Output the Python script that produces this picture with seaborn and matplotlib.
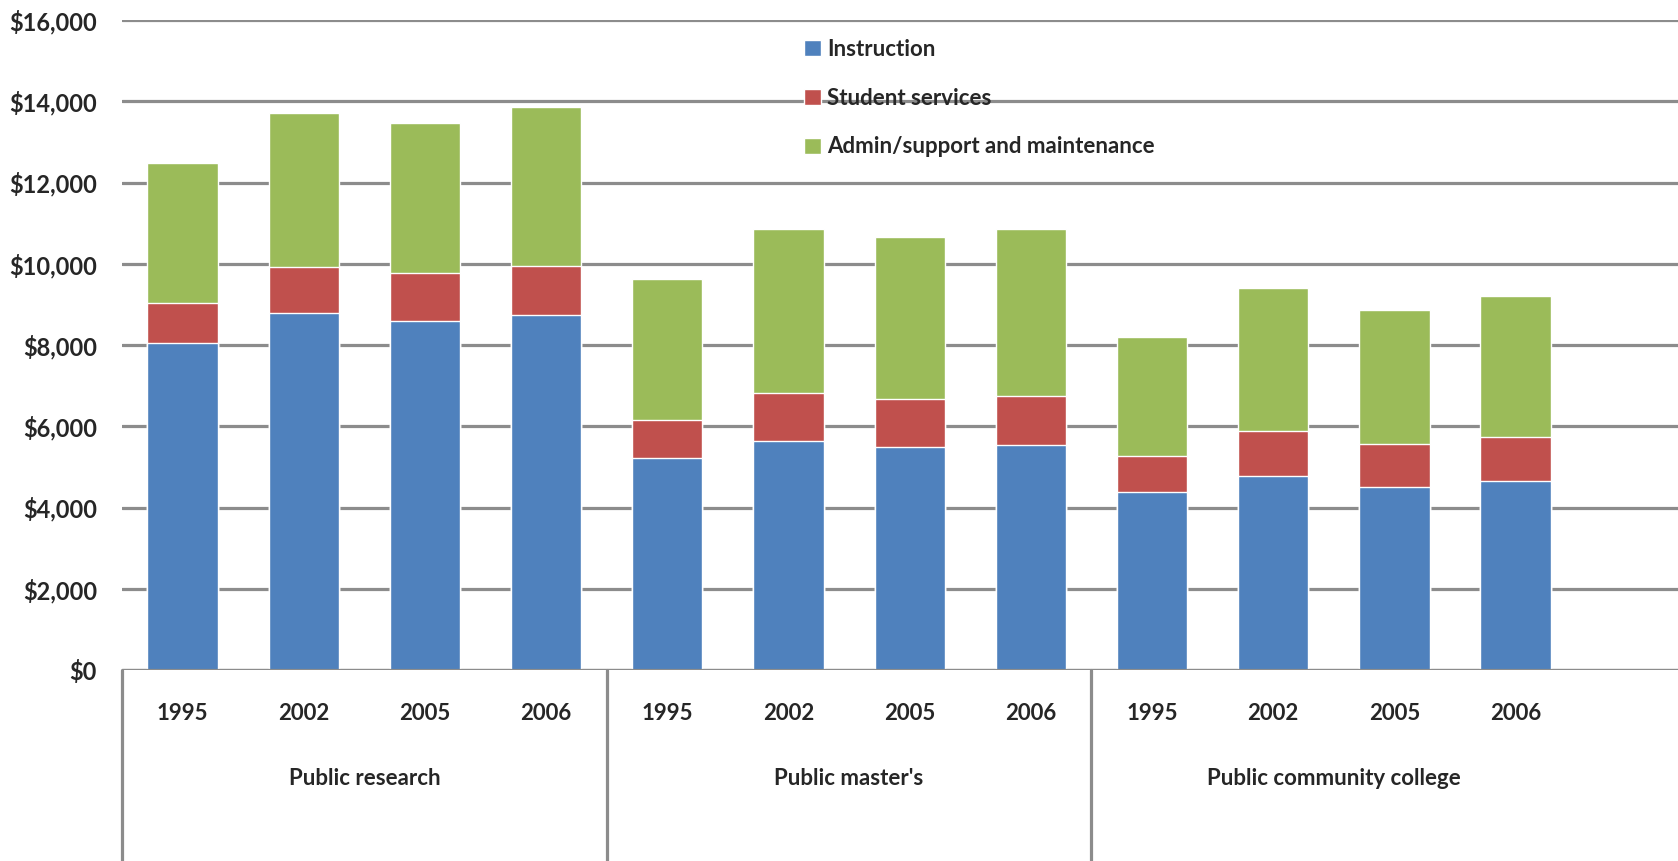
import matplotlib
matplotlib.use("Agg")
import matplotlib.pyplot as plt
from matplotlib.patches import Patch
from matplotlib.ticker import FuncFormatter
import pandas as pd
import seaborn as sns

# Data (dollars per FTE student)
groups = ["Public research", "Public master's", "Public community college"]
years = ["1995", "2002", "2005", "2006"]
instruction = [8050, 8790, 8590, 8740,
               5220, 5640, 5490, 5540,
               4380, 4780, 4500, 4650]
student_services = [980, 1130, 1180, 1200,
                    930, 1180, 1180, 1200,
                    890, 1100, 1060, 1090]
admin_support = [3450, 3790, 3690, 3920,
                 3470, 4040, 3990, 4120,
                 2930, 3520, 3300, 3470]

colors = {"Instruction": "#4F81BD", "Student services": "#C0504D",
          "Admin/support and maintenance": "#9BBB59"}

rows = []
for i, g in enumerate(groups):
    for j, yr in enumerate(years):
        k = i * len(years) + j
        rows.append({"bar": f"{g} {yr}", "year": yr, "group": g,
                     "inst": instruction[k],
                     "stud": instruction[k] + student_services[k],
                     "total": instruction[k] + student_services[k] + admin_support[k]})
df = pd.DataFrame(rows)

sns.set_style("white")
plt.rcParams["font.family"] = ["Lato", "DejaVu Sans"]

fig = plt.figure(figsize=(16.78, 8.61), dpi=100)
ax = fig.add_axes([122 / 1678, 191 / 861, 1 - 122 / 1678, 650 / 861])

order = list(df["bar"])
# stacked by overlaying cumulative sums
sns.barplot(data=df, x="bar", y="total", order=order, color=colors["Admin/support and maintenance"],
            width=0.58, saturation=1, ax=ax, zorder=3)
sns.barplot(data=df, x="bar", y="stud", order=order, color=colors["Student services"],
            width=0.58, saturation=1, ax=ax, zorder=3)
sns.barplot(data=df, x="bar", y="inst", order=order, color=colors["Instruction"],
            width=0.58, saturation=1, ax=ax, zorder=3)

ax.set_ylim(0, 16000)
ax.set_xlim(-0.5, 12.34)
ax.set_yticks(range(0, 16001, 2000))
ax.yaxis.set_major_formatter(FuncFormatter(lambda v, p: f"${v:,.0f}"))
ax.yaxis.grid(True, color="#8c8c8c", linewidth=2.3, zorder=0)
ax.set_axisbelow(True)
for s in ["top", "right", "left", "bottom"]:
    ax.spines[s].set_visible(False)
ax.axhline(0, color="#8c8c8c", linewidth=2.3, zorder=4)
ax.set_xlabel("")
ax.set_ylabel("")
ax.tick_params(axis="y", length=0, pad=18, labelsize=17)
for t in ax.get_yticklabels():
    t.set_fontweight("bold")

ax.set_xticks(range(len(order)))
ax.set_xticklabels(df["year"], fontsize=16, fontweight="bold")
ax.tick_params(axis="x", length=0, pad=24)

# group labels and separators below the axis
trans = ax.get_xaxis_transform()
for i, g in enumerate(groups):
    ax.text(i * 4 + 1.5, -0.167, g, transform=trans, ha="center", va="center",
            fontsize=16, fontweight="bold", clip_on=False)
for xs in [-0.5, 3.5, 7.5]:
    ax.plot([xs, xs], [0, -0.3], transform=trans, color="#8c8c8c",
            linewidth=2.3, clip_on=False)

handles = [Patch(facecolor=c, label=n) for n, c in colors.items()]
leg = fig.legend(handles=handles, loc="upper left", bbox_to_anchor=(795 / 1678, 1 - 30 / 861),
                 frameon=False, fontsize=16, handlelength=0.75, handleheight=0.75,
                 handletextpad=0.3, labelspacing=1.25, borderaxespad=0)
for t in leg.get_texts():
    t.set_fontweight("bold")

fig.savefig("out.png", dpi=100)
